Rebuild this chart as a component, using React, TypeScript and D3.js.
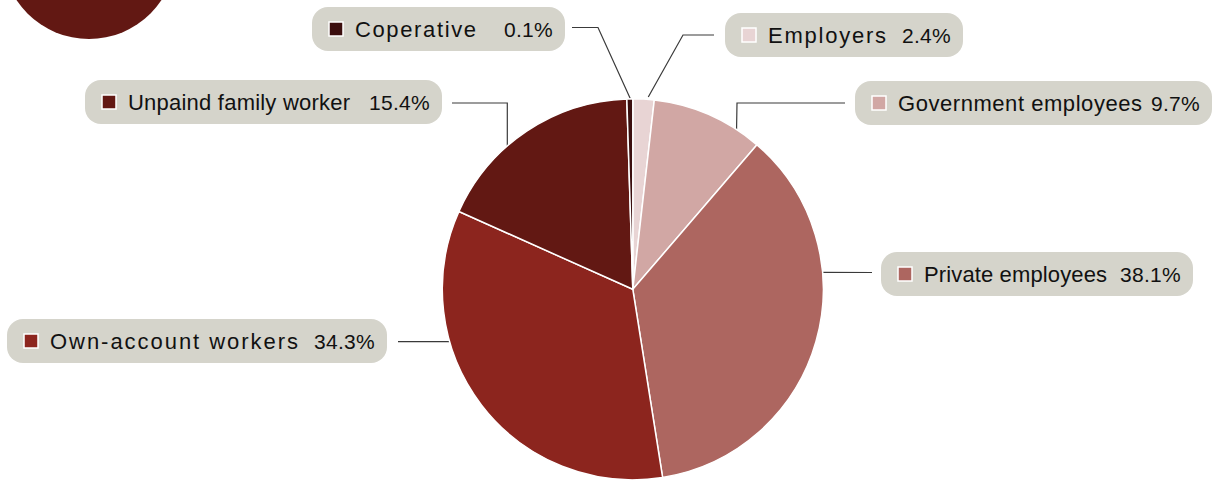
import React from "react";
import * as d3 from "d3";

// ---- data ----
const categories = [
  "Employers",
  "Government employees",
  "Private employees",
  "Own-account workers",
  "Unpaind family worker",
  "Coperative",
];
// slice sizes as drawn in the picture (percent of the circle)
const sliceValues = [1.8, 9.5, 36.2, 34.2, 17.8, 0.5];
// percentages printed in the labels
const labelValues = ["2.4%", "9.7%", "38.1%", "34.3%", "15.4%", "0.1%"];

// ---- styles / layout ----
const colors = ["#e8d4d4", "#d1a7a4", "#ad6660", "#8c251e", "#621813", "#3b0e0e"];
const W = 1215;
const H = 480;
const CX = 632.8;
const CY = 289.3;
const R = 190.5;
const BOX_H = 44;

type Layout = {
  box: [number, number, number];
  nameWidth: number;
  path: [number, number][];
  endAngle: number;
  endR: number;
};
const layouts: Layout[] = [
  { box: [725, 13, 238], nameWidth: 118, path: [[714, 35], [683, 35]], endAngle: 4.6, endR: 193 },
  { box: [855, 81, 357], nameWidth: 244, path: [[845, 103], [737, 103]], endAngle: 33, endR: 190.5 },
  { box: [881, 252, 312], nameWidth: 183, path: [[872, 272.5]], endAngle: 84.9, endR: 190.5 },
  { box: [7, 319, 380], nameWidth: 248, path: [[398, 341.6]], endAngle: 254.1, endR: 191 },
  { box: [85, 80, 357], nameWidth: 222, path: [[452, 103], [507.3, 103]], endAngle: 318.8, endR: 190.5 },
  { box: [312, 7, 253], nameWidth: 121, path: [[572, 27.5], [598, 27.5]], endAngle: 359.2, endR: 191 },
];

export default function App() {
  const pie = d3
    .pie<number>()
    .sort(null)
    .value((d) => d);
  const arcs = pie(sliceValues);
  const arc = d3.arc<d3.PieArcDatum<number>>().innerRadius(0).outerRadius(R);
  const line = d3.line();

  return (
    <svg
      width={W}
      height={H}
      style={{ position: "absolute", left: 0, top: 0, background: "#fff" }}
      fontFamily="'Liberation Sans', Arial, sans-serif"
    >
      {/* decorative circle top-left */}
      <circle cx={89} cy={-48} r={87} fill="#621813" />

      {/* leader lines */}
      {layouts.map((l, i) => {
        const [ex, ey] = d3.pointRadial((l.endAngle * Math.PI) / 180, l.endR);
        const pts: [number, number][] = [...l.path, [CX + ex, CY + ey]];
        return <path key={"ll" + i} d={line(pts) || ""} fill="none" stroke="#3a3a3a" strokeWidth={1.2} />;
      })}

      {/* pie */}
      <g transform={`translate(${CX},${CY})`}>
        {arcs.map((a, i) => (
          <path key={"s" + i} d={arc(a) || ""} fill={colors[i]} stroke="#fff" strokeWidth={1.5} strokeLinejoin="round" />
        ))}
      </g>

      {/* label boxes */}
      {layouts.map((l, i) => {
        const [bx, by, bw] = l.box;
        const cy = by + BOX_H / 2;
        return (
          <g key={"lb" + i}>
            <rect x={bx} y={by} width={bw} height={BOX_H} rx={16} ry={16} fill="#d5d4cb" />
            <rect x={bx + 17} y={cy - 7} width={14} height={14} fill={colors[i]} stroke="#fff" strokeWidth={1.5} />
            <text
              x={bx + 43}
              y={cy + 8}
              fontSize={22}
              fill="#111"
              textLength={l.nameWidth}
              lengthAdjust="spacing"
            >
              {categories[i]}
            </text>
            <text x={bx + bw - 12} y={cy + 8} fontSize={21} fill="#111" textAnchor="end" letterSpacing={0.3}>
              {labelValues[i]}
            </text>
          </g>
        );
      })}
    </svg>
  );
}
